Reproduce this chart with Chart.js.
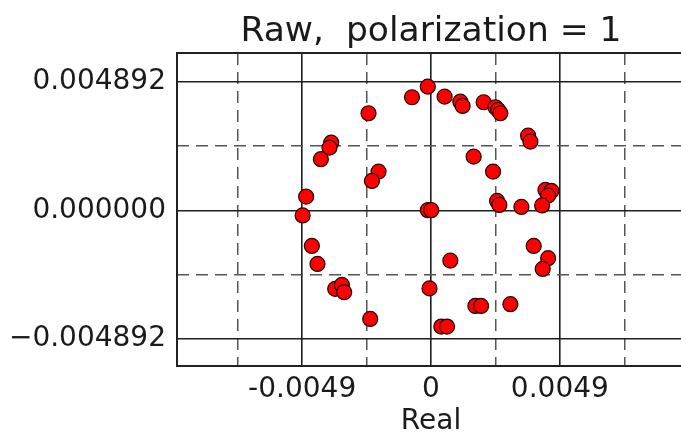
<!DOCTYPE html>
<html>
<head>
<meta charset="utf-8">
<script src="https://cdn.jsdelivr.net/npm/chart.js"></script>
<style>
  html, body { margin: 0; padding: 0; overflow: hidden; background: #fff; }
  canvas { display: block; }
</style>
</head>
<body>
<canvas id="iqChart" width="685" height="438"></canvas>
<script>
// Raw I/Q points
const realValues = [
  -0.000122, -0.000723, 0.000518, 0.001115, 0.001203, 0.002003, 0.002448, 0.002551,
  0.002638, -0.002376, 0.003693, 0.003781, -0.003796, -0.003860, -0.004188, 0.001622,
  0.002360, -0.001995, -0.002246, 0.004352, 0.004580, 0.004454, -0.004748, 0.002513,
  0.002600, 0.003438, 0.004226, -0.004881, -0.000122, 0.000010, -0.004531, 0.003906,
  -0.004317, 0.004454, 0.004249, 0.000735, -0.003643, -0.003388, -0.003301, -0.000057,
  -0.002311, 0.001687, 0.001904, 0.003019, 0.000392, 0.000609
];
const imagValues = [
  0.004702, 0.004299, 0.004322, 0.004132, 0.003969, 0.004109, 0.003920, 0.003817,
  0.003692, 0.003692, 0.002841, 0.002613, 0.002575, 0.002385, 0.001945, 0.002043,
  0.001474, 0.001474, 0.001120, 0.000779, 0.000741, 0.000562, 0.000524, 0.000361,
  0.000209, 0.000133, 0.000190, -0.000190, 0.000010, 0.000010, -0.001348, -0.001348,
  -0.002032, -0.001815, -0.002222, -0.001907, -0.002981, -0.002830, -0.003107, -0.002962,
  -0.004121, -0.003627, -0.003627, -0.003563, -0.004413, -0.004413
];

const xTickValues = [-0.00735, -0.0049, -0.00245, 0, 0.00245, 0.0049, 0.00735];
const xTickLabels = ["", "-0.0049", "", "0", "", "0.0049", ""];
const yTickValues = [-0.004892, -0.002446, 0, 0.002446, 0.004892];
const yTickLabels = ["\u22120.004892", "", "0.000000", "", "0.004892"];

const titleText = "Raw,  polarization = 1";
const FONT = "'DejaVu Sans', sans-serif";

const points = realValues.map((x, i) => ({ x: x, y: imagValues[i] }));

// frame box and title over the plot area
const frameAndTitle = {
  id: "frameAndTitle",
  afterDatasetsDraw(chart) {
    const { ctx, chartArea: a } = chart;
    ctx.save();
    ctx.strokeStyle = "#222";
    ctx.lineWidth = 2;
    ctx.strokeRect(a.left, a.top, a.right - a.left, a.bottom - a.top);
    ctx.restore();
  },
  afterDraw(chart) {
    const { ctx, chartArea: a } = chart;
    ctx.save();
    ctx.fillStyle = "#1a1a1a";
    ctx.font = "34.5px " + FONT;
    ctx.textAlign = "center";
    ctx.textBaseline = "alphabetic";
    ctx.fillText(titleText, (a.left + a.right) / 2, 41);
    ctx.restore();
  }
};

function gridStyle(labels) {
  return {
    color: (c) => labels[c.index] ? "#1e1e1e" : "#555",
    lineWidth: (c) => labels[c.index] ? 1.6 : 1.5,
    drawTicks: false
  };
}

new Chart(document.getElementById("iqChart"), {
  type: "scatter",
  data: {
    datasets: [{
      data: points,
      backgroundColor: "#ff0000",
      borderColor: "#220505",
      borderWidth: 1.2,
      pointRadius: 7.5,
      pointHoverRadius: 7.5
    }]
  },
  options: {
    responsive: false,
    animation: false,
    layout: {
      autoPadding: false,
      padding: { top: 53, left: 0, right: 0, bottom: 0 }
    },
    plugins: {
      legend: { display: false },
      tooltip: { enabled: false },
      title: { display: false }
    },
    scales: {
      x: {
        type: "linear",
        min: -0.00966,
        max: 0.00966,
        afterBuildTicks: (s) => { s.ticks = xTickValues.map((v) => ({ value: v })); },
        afterFit: (s) => {
          s.height = 72;
          s.paddingLeft = 0;
          s.paddingRight = 0;
        },
        ticks: {
          autoSkip: false,
          maxRotation: 0,
          padding: 7,
          color: "#1a1a1a",
          font: { family: FONT, size: 28 },
          callback: (v, i) => xTickLabels[i]
        },
        grid: gridStyle(xTickLabels),
        border: {
          display: false,
          dash: (c) => xTickLabels[c.index] ? [] : [12, 7]
        },
        title: {
          display: true,
          text: "Real",
          color: "#1a1a1a",
          font: { family: FONT, size: 28 },
          padding: { top: 0, bottom: -1 }
        }
      },
      y: {
        type: "linear",
        min: -0.00591,
        max: 0.00598,
        afterBuildTicks: (s) => { s.ticks = yTickValues.map((v) => ({ value: v })); },
        afterFit: (s) => { s.width = 177; },
        ticks: {
          autoSkip: false,
          padding: 11,
          color: "#1a1a1a",
          font: { family: FONT, size: 28 },
          callback: (v, i) => yTickLabels[i]
        },
        grid: gridStyle(yTickLabels),
        border: {
          display: false,
          dash: (c) => yTickLabels[c.index] ? [] : [12, 7]
        }
      }
    }
  },
  plugins: [frameAndTitle]
});
</script>
</body>
</html>
